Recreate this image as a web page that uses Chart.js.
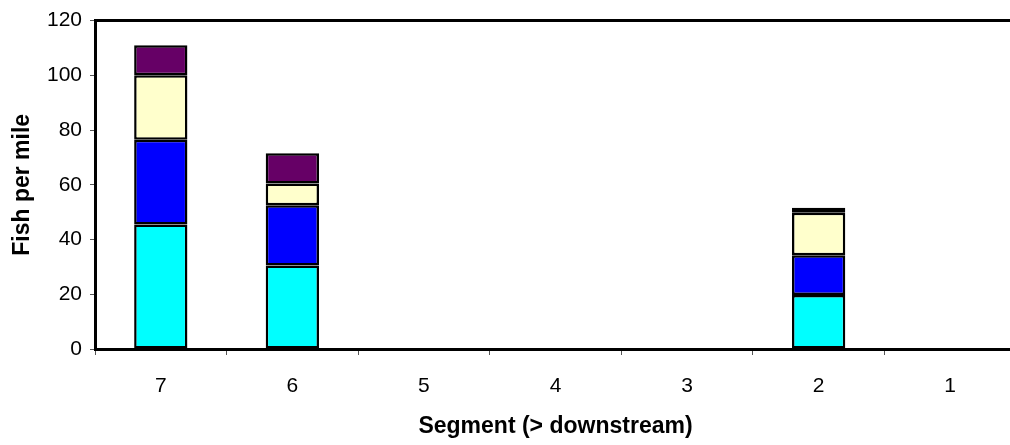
<!DOCTYPE html>
<html>
<head>
<meta charset="utf-8">
<script src="https://cdn.jsdelivr.net/npm/chart.js@4/dist/chart.umd.min.js"></script>
<style>
  html, body { margin: 0; padding: 0; background: #fff; overflow: hidden; }
  #wrap { width: 1016px; height: 445px; position: relative; }
</style>
</head>
<body>
<div id="wrap"><canvas id="chart"></canvas></div>
<script>
// segments, upstream to downstream
const segments = ['7', '6', '5', '4', '3', '2', '1'];

// fish per mile, stacked from the bottom
const series1 = [45.5, 30.5, null, null, null, 19.7, null];
const series2 = [31, 22, null, null, null, 14.6, null];
const series3 = [23.5, 8, null, null, null, 15.5, null];
const series4 = [11, 11, null, null, null, 1.8, null];

const yTicks = { min: 0, max: 120, step: 20 };

const FONT = 'Liberation Sans, Arial, sans-serif';

// black line along the top of the plot area (the right edge runs off the picture)
const frame = {
  id: 'frame',
  afterDraw(chart) {
    const { ctx, chartArea: a } = chart;
    ctx.save();
    ctx.strokeStyle = '#000';
    ctx.lineWidth = 3;
    ctx.beginPath();
    ctx.moveTo(a.left, a.top);
    ctx.lineTo(a.right, a.top);
    ctx.lineTo(a.right, a.bottom);
    ctx.stroke();
    ctx.restore();
  }
};

function bar(label, data, color) {
  return {
    label: label,
    data: data,
    backgroundColor: color,
    borderColor: '#000',
    borderWidth: 2.5,
    borderSkipped: false,
    inflateAmount: 0,
    barPercentage: 0.405,
    categoryPercentage: 1
  };
}

new Chart(document.getElementById('chart'), {
  type: 'bar',
  data: {
    labels: segments,
    datasets: [
      bar('Series 1', series1, '#00FFFF'),
      bar('Series 2', series2, '#0000FF'),
      bar('Series 3', series3, '#FFFFCC'),
      bar('Series 4', series4, '#660066')
    ]
  },
  options: {
    responsive: true,
    maintainAspectRatio: false,
    animation: false,
    layout: { padding: { top: 18, right: 0, left: 0, bottom: 0 } },
    plugins: {
      legend: { display: false },
      tooltip: { enabled: true }
    },
    scales: {
      x: {
        stacked: true,
        afterFit(scale) { scale.height = 96; },
        border: { display: true, color: '#000', width: 3 },
        grid: {
          display: true,
          offset: true,
          drawOnChartArea: false,
          drawTicks: true,
          tickLength: 6,
          tickColor: '#555',
          tickWidth: 1
        },
        ticks: {
          color: '#000',
          padding: 19,
          font: { family: FONT, size: 21 }
        },
        title: {
          display: true,
          text: 'Segment (> downstream)',
          color: '#000',
          padding: { top: 0, bottom: 5 },
          font: { family: FONT, size: 23, weight: 'bold' }
        }
      },
      y: {
        stacked: true,
        min: yTicks.min,
        max: yTicks.max,
        afterFit(scale) { scale.width = 95; },
        border: { display: true, color: '#000', width: 3 },
        grid: {
          display: true,
          drawOnChartArea: false,
          drawTicks: true,
          tickLength: 5,
          tickColor: '#555',
          tickWidth: 1
        },
        ticks: {
          stepSize: yTicks.step,
          color: '#000',
          padding: 8,
          font: { family: FONT, size: 21 }
        },
        title: {
          display: true,
          text: 'Fish per mile',
          color: '#000',
          padding: { top: 9, bottom: 0 },
          font: { family: FONT, size: 23, weight: 'bold' }
        }
      }
    }
  },
  plugins: [frame]
});
</script>
</body>
</html>
